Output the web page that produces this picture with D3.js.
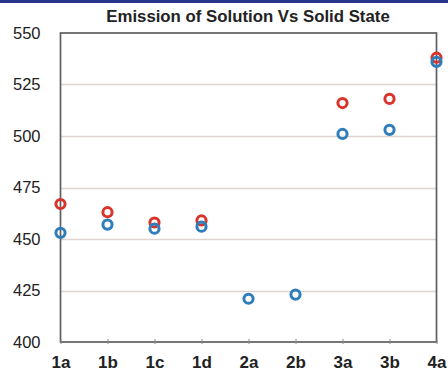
<!DOCTYPE html>
<html>
<head>
<meta charset="utf-8">
<script src="https://cdn.jsdelivr.net/npm/d3@7"></script>
<style>
  html, body { margin: 0; padding: 0; background: #fff; }
  svg { display: block; }
</style>
</head>
<body>
<svg id="chart" width="448" height="372"></svg>
<script>
// Emission maxima (nm) per compound, in solution and in the solid state
const categories = ["1a", "1b", "1c", "1d", "2a", "2b", "3a", "3b", "4a"];
const solidValues = [467, 463, 458, 459, null, null, 516, 518, 538];
const solutionValues = [453, 457, 455, 456, 421, 423, 501, 503, 536];
const yTicks = [400, 425, 450, 475, 500, 525, 550];
const titleText = "Emission of Solution Vs Solid State";

const svg = d3.select("#chart");
const W = 448, H = 372;
const m = { left: 60.5, right: 436.5, top: 33, bottom: 342 };

// top rule
svg.append("rect").attr("x", 0).attr("y", 0).attr("width", W).attr("height", 3)
  .attr("fill", "#27358a");

const x = d3.scalePoint().domain(categories).range([m.left, m.right]);
const y = d3.scaleLinear().domain([400, 550]).range([m.bottom, m.top]);

// horizontal gridlines
svg.append("g")
  .selectAll("line")
  .data(yTicks.filter(t => t > 400 && t < 550))
  .join("line")
  .attr("x1", m.left).attr("x2", m.right)
  .attr("y1", d => Math.round(y(d)) + 0.5).attr("y2", d => Math.round(y(d)) + 0.5)
  .attr("stroke", "#ddd3d0").attr("stroke-width", 1.4);

// plot frame
svg.append("rect")
  .attr("x", m.left).attr("y", m.top)
  .attr("width", m.right - m.left).attr("height", m.bottom - m.top)
  .attr("fill", "none").attr("stroke", "#5e5e5e").attr("stroke-width", 1.7);

// y axis labels
const yAxis = d3.axisLeft(y).tickValues(yTicks).tickSize(0).tickPadding(20);
const gy = svg.append("g").attr("transform", `translate(${m.left},0)`).call(yAxis);
gy.select(".domain").remove();
gy.selectAll("text")
  .attr("font-family", "Liberation Sans, Arial, sans-serif")
  .attr("font-size", 16.5).attr("fill", "#222");

// x axis: small ticks and bold labels
const xAxis = d3.axisBottom(x).tickSize(3).tickPadding(11);
const gx = svg.append("g").attr("transform", `translate(0,${m.bottom})`).call(xAxis);
gx.select(".domain").remove();
gx.selectAll(".tick line").attr("stroke", "#8a8a8a").attr("y1", -3).attr("y2", 2);
gx.selectAll("text")
  .attr("font-family", "Liberation Sans, Arial, sans-serif")
  .attr("font-weight", "bold")
  .attr("font-size", 17).attr("fill", "#222");

// title
svg.append("text")
  .attr("x", 248).attr("y", 22)
  .attr("text-anchor", "middle")
  .attr("font-family", "Liberation Sans, Arial, sans-serif")
  .attr("font-weight", "bold").attr("font-size", 16.8)
  .attr("fill", "#222")
  .text(titleText);

// ring markers
function drawSeries(values, color) {
  svg.append("g")
    .selectAll("circle")
    .data(categories.map((c, i) => ({ c, v: values[i] })).filter(d => d.v != null))
    .join("circle")
    .attr("cx", d => x(d.c))
    .attr("cy", d => y(d.v))
    .attr("r", 4.6)
    .attr("fill", "none")
    .attr("stroke", color)
    .attr("stroke-width", 3);
}
drawSeries(solidValues, "#d9342b");
drawSeries(solutionValues, "#2f7dba");
</script>
</body>
</html>
